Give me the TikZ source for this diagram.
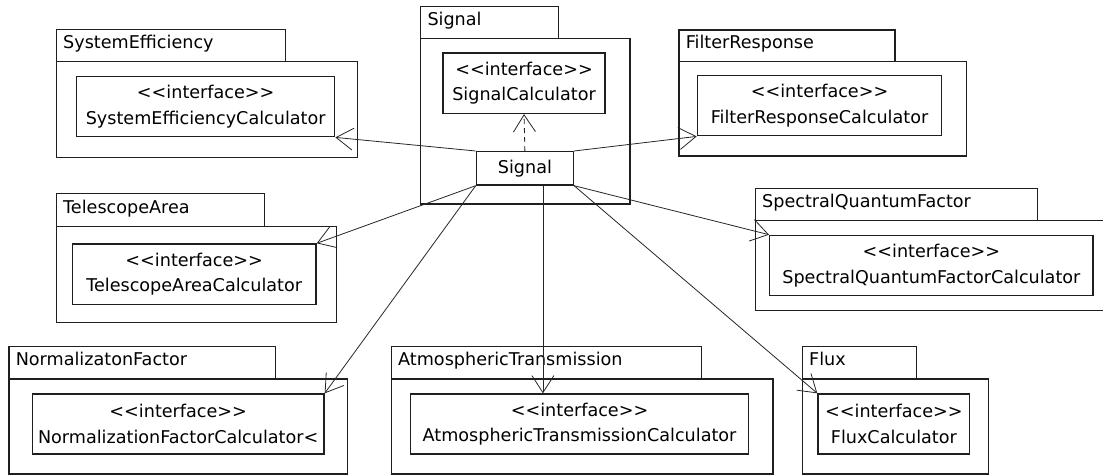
\documentclass[tikz,border=0pt]{standalone}
\usepackage{fontspec}
\newfontfamily\umlfont{DejaVu Sans}
\usetikzlibrary{arrows.meta}
\begin{document}
\begin{tikzpicture}[x=1pt,y=-1pt,
  every node/.style={font=\umlfont\fontsize{17.6}{25.5}\selectfont, text=black},
  frame/.style={draw=black!88, line width=1.4pt, anchor=north west, inner sep=0pt},
  pkgtab/.style={frame},
  pkgbody/.style={frame},
  iface/.style={frame, align=center},
  tablabel/.style={anchor=base west, inner sep=0pt},
  dep/.style={draw=black!85, line width=0.8pt, -{Straight Barb[length=17pt,width=22pt]}},
  real/.style={dep, dash pattern=on 5pt off 4pt}]
\useasboundingbox (0,0) rectangle (1103,475);

% package SystemEfficiency
\node[pkgtab, minimum width=229.3, minimum height=32] (seTab) at (55.7,29) {};
\node[pkgbody, minimum width=301, minimum height=95.7] (seBody) at (55.7,61) {};
\node[tablabel] (seLbl) at ([xshift=7.3pt,yshift=-3pt]seTab.west) {SystemEfficiency};
\node[iface, minimum width=258, minimum height=60] (seCls) at (76,76)
  {<<interface>>\\SystemEfficiencyCalculator};

% package TelescopeArea
\node[pkgtab, minimum width=208.3, minimum height=32.7] (taTab) at (55.7,193) {};
\node[pkgbody, minimum width=280.3, minimum height=96] (taBody) at (55.7,225.7) {};
\node[tablabel] (taLbl) at ([xshift=7.3pt,yshift=-3pt]taTab.west) {TelescopeArea};
\node[iface, minimum width=243.6, minimum height=60.7] (taCls) at (71.7,243.3)
  {<<interface>>\\TelescopeAreaCalculator};

% package Signal
\node[pkgtab, minimum width=137.7, minimum height=32] (sgTab) at (420,5.7) {};
\node[pkgbody, minimum width=209.3, minimum height=165.6] (sgBody) at (420,37.7) {};
\node[tablabel] (sgLbl) at ([xshift=7.3pt,yshift=-3pt]sgTab.west) {Signal};
\node[iface, minimum width=162, minimum height=60.4] (scCls) at (442.3,52.3)
  {<<interface>>\\SignalCalculator};
\node[iface, minimum width=97, minimum height=33.3] (sigCls) at (475.7,151) {Signal};

% package FilterResponse
\node[pkgtab, minimum width=216, minimum height=31.7] (frTab) at (678.3,29.3) {};
\node[pkgbody, minimum width=287.7, minimum height=94.3] (frBody) at (678.3,61) {};
\node[tablabel] (frLbl) at ([xshift=7.3pt,yshift=-3pt]frTab.west) {FilterResponse};
\node[iface, minimum width=244.3, minimum height=60.3] (frCls) at (696.7,74.7)
  {<<interface>>\\FilterResponseCalculator};

% package SpectralQuantumFactor
\node[pkgtab, minimum width=282, minimum height=32] (sqTab) at (754.7,188) {};
\node[pkgbody, minimum width=360, minimum height=90] (sqBody) at (754.7,220) {};
\node[tablabel] (sqLbl) at ([xshift=7.3pt,yshift=-3pt]sqTab.west) {SpectralQuantumFactor};
\node[iface, minimum width=323.3, minimum height=60.3] (sqCls) at (769,234.7)
  {<<interface>>\\SpectralQuantumFactorCalculator};

% package NormalizatonFactor
\node[pkgtab, minimum width=266.7, minimum height=32.3] (nfTab) at (8.3,346) {};
\node[pkgbody, minimum width=338.4, minimum height=95] (nfBody) at (8.3,378.3) {};
\node[tablabel] (nfLbl) at ([xshift=7.3pt,yshift=-3pt]nfTab.west) {NormalizatonFactor};
\node[iface, minimum width=291.6, minimum height=60] (nfCls) at (31.7,393.3)
  {<<interface>>\\NormalizationFactorCalculator<};

% package AtmosphericTransmission
\node[pkgtab, minimum width=310, minimum height=32.3] (atTab) at (390.7,346) {};
\node[pkgbody, minimum width=381.6, minimum height=95] (atBody) at (390.7,378.3) {};
\node[tablabel] (atLbl) at ([xshift=7.3pt,yshift=-3pt]atTab.west) {AtmosphericTransmission};
\node[iface, minimum width=337.7, minimum height=60] (atCls) at (410,393.3)
  {<<interface>>\\AtmosphericTransmissionCalculator};

% package Flux
\node[pkgtab, minimum width=114, minimum height=32.3] (fxTab) at (801.7,346) {};
\node[pkgbody, minimum width=186.3, minimum height=95] (fxBody) at (801.7,378.3) {};
\node[tablabel] (fxLbl) at ([xshift=7.3pt,yshift=-3pt]fxTab.west) {Flux};
\node[iface, minimum width=151.7, minimum height=60] (fxCls) at (817.3,393.3)
  {<<interface>>\\FluxCalculator};

% realization of SignalCalculator
\draw[real] (sigCls.north) -- (scCls.south);

% dependencies of Signal
\draw[dep] (sigCls.north west) -- (seCls.south east);
\draw[dep] (sigCls.north east) -- (frCls.south west);
\draw[dep] (sigCls.south west) -- (taCls.north east);
\draw[dep] (sigCls.south west) -- (nfCls.north east);
\coordinate (atFrom) at ([xshift=18pt]sigCls.south);
\draw[dep] (atFrom) -- (atFrom |- atCls.north);
\draw[dep] (sigCls.south east) -- (fxCls.north west);
\draw[dep] (sigCls.south east) -- (sqCls.north west);
\end{tikzpicture}
\end{document}
